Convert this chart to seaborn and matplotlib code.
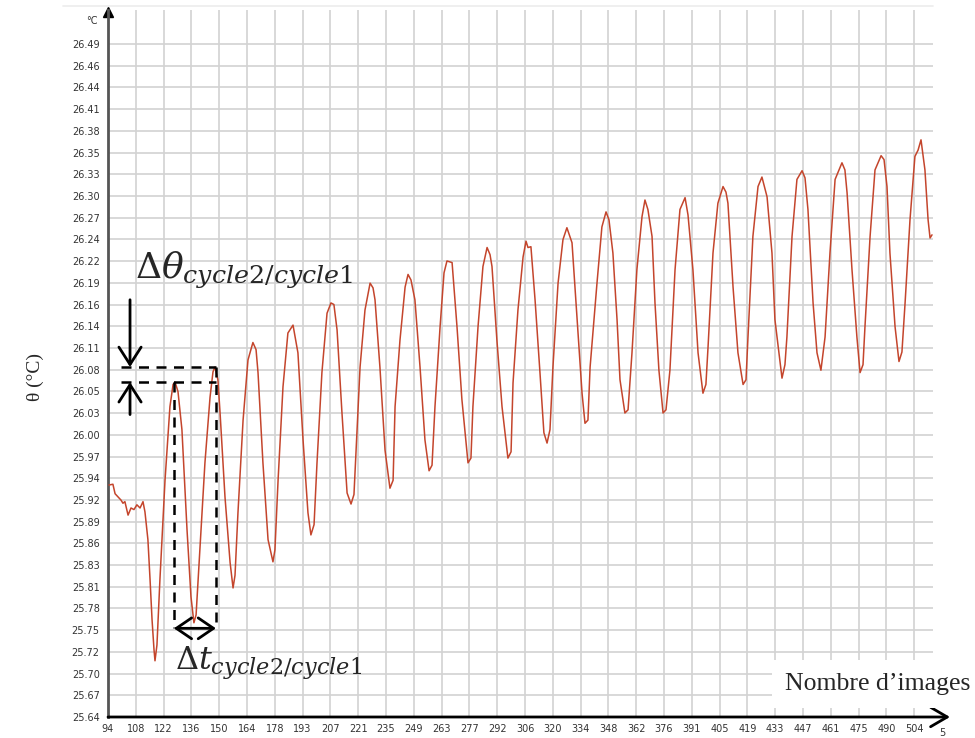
import numpy as np
import pandas as pd
import seaborn as sns
import matplotlib.pyplot as plt
from matplotlib.lines import Line2D

# data (image number, temperature in degC)
images = [94.5, 96.5, 97.6, 99.1, 100.6, 101.6, 102.6, 104.2, 105.7, 107.2, 108.7, 110.3, 111.8, 112.8,
          114.3, 115.4, 116.4, 117.4, 117.9, 118.9, 120.4, 123.0, 125.5, 127.1, 128.1, 129.6, 131.6, 134.2,
          136.2, 137.7, 138.8, 140.8, 143.3, 145.9, 147.4, 148.4, 149.9, 151.0, 153.5, 156.1, 157.6, 158.6,
          160.1, 162.7, 165.2, 167.7, 169.3, 170.3, 172.8, 175.4, 177.9, 178.9, 180.5, 183.0, 185.5, 188.1,
          190.6, 193.2, 195.7, 197.2, 198.8, 200.3, 202.8, 205.4, 207.4, 208.9, 210.5, 213.0, 215.6, 217.6,
          219.1, 222.2, 224.7, 227.3, 228.8, 229.8, 232.3, 234.9, 237.4, 239.0, 240.0, 242.5, 245.1, 246.6,
          248.1, 250.1, 252.7, 255.2, 257.3, 258.8, 260.3, 262.9, 264.9, 266.4, 269.0, 271.5, 274.0, 277.1,
          278.6, 279.6, 282.2, 284.7, 286.8, 288.3, 289.3, 291.8, 294.4, 297.4, 299.0, 300.0, 302.5, 305.1,
          306.6, 307.6, 309.1, 311.2, 313.7, 315.7, 317.3, 318.8, 320.3, 322.9, 325.4, 327.4, 330.0, 332.5,
          335.1, 336.6, 338.1, 339.2, 342.7, 345.2, 347.3, 348.8, 350.8, 352.9, 354.4, 356.9, 358.5, 360.5,
          363.0, 365.6, 367.1, 368.6, 370.7, 372.2, 374.2, 376.3, 377.8, 379.8, 382.4, 384.9, 387.5, 389.0,
          391.5, 394.1, 396.6, 398.1, 399.2, 401.7, 404.2, 406.8, 408.3, 409.3, 411.9, 414.4, 417.0, 418.5,
          419.5, 422.0, 424.6, 426.6, 429.2, 431.7, 433.2, 436.8, 438.3, 439.3, 441.9, 444.4, 447.0, 448.5,
          450.0, 452.6, 454.6, 456.6, 458.7, 461.2, 463.8, 467.3, 468.8, 469.9, 472.4, 474.9, 476.5, 478.0,
          479.0, 481.6, 484.1, 487.2, 488.7, 490.2, 491.7, 494.3, 496.3, 497.8, 499.4, 501.9, 504.4, 506.0,
          507.5, 509.5, 511.1, 512.1, 513.1]
temperature = [25.933, 25.934, 25.922, 25.918, 25.914, 25.910, 25.912, 25.895, 25.904, 25.902, 25.908, 25.904,
               25.912, 25.899, 25.864, 25.813, 25.763, 25.725, 25.711, 25.731, 25.813, 25.939, 26.032, 26.060,
               26.063, 26.051, 26.003, 25.876, 25.792, 25.759, 25.769, 25.855, 25.961, 26.044, 26.076, 26.082,
               26.066, 26.024, 25.918, 25.835, 25.803, 25.819, 25.898, 26.015, 26.091, 26.113, 26.104, 26.075,
               25.961, 25.864, 25.836, 25.851, 25.939, 26.057, 26.125, 26.135, 26.100, 25.990, 25.898, 25.870,
               25.883, 25.961, 26.075, 26.150, 26.163, 26.161, 26.129, 26.024, 25.923, 25.909, 25.921, 26.082,
               26.154, 26.188, 26.182, 26.167, 26.082, 25.977, 25.929, 25.939, 26.032, 26.116, 26.183, 26.199,
               26.192, 26.167, 26.082, 25.990, 25.951, 25.958, 26.032, 26.133, 26.201, 26.216, 26.214, 26.133,
               26.041, 25.961, 25.967, 26.032, 26.133, 26.209, 26.233, 26.224, 26.209, 26.116, 26.032, 25.967,
               25.975, 26.062, 26.154, 26.221, 26.241, 26.233, 26.234, 26.167, 26.075, 25.999, 25.986, 26.003,
               26.082, 26.188, 26.243, 26.258, 26.239, 26.145, 26.049, 26.011, 26.015, 26.082, 26.188, 26.259,
               26.278, 26.268, 26.226, 26.142, 26.066, 26.024, 26.028, 26.100, 26.205, 26.272, 26.293, 26.281,
               26.247, 26.163, 26.078, 26.024, 26.028, 26.078, 26.205, 26.281, 26.296, 26.274, 26.205, 26.100,
               26.049, 26.060, 26.108, 26.226, 26.289, 26.310, 26.303, 26.289, 26.183, 26.100, 26.060, 26.066,
               26.120, 26.247, 26.310, 26.322, 26.297, 26.226, 26.142, 26.068, 26.085, 26.120, 26.247, 26.319,
               26.330, 26.321, 26.281, 26.163, 26.100, 26.078, 26.120, 26.226, 26.319, 26.340, 26.331, 26.302,
               26.205, 26.120, 26.075, 26.085, 26.133, 26.247, 26.331, 26.349, 26.344, 26.310, 26.226, 26.133,
               26.089, 26.101, 26.163, 26.268, 26.348, 26.356, 26.369, 26.331, 26.268, 26.245, 26.249]

xtick_labels = ['94', '108', '122', '136', '150', '164', '178', '193', '207', '221', '235', '249', '263',
                '277', '292', '306', '320', '334', '348', '362', '376', '391', '405', '419', '433', '447',
                '461', '475', '490', '504']
ytick_labels = ['25.64', '25.67', '25.70', '25.72', '25.75', '25.78', '25.81', '25.83', '25.86', '25.89',
                '25.92', '25.94', '25.97', '26.00', '26.03', '26.05', '26.08', '26.11', '26.14', '26.16',
                '26.19', '26.22', '26.24', '26.27', '26.30', '26.33', '26.35', '26.38', '26.41', '26.44',
                '26.46', '26.49']

# the two cycles compared
peak1 = (127.5, 26.063)
peak2 = (148.9, 26.082)

df = pd.DataFrame({'image': images, 'temp': temperature})

sns.set_style('white')
plt.rcParams['mathtext.fontset'] = 'dejavuserif'

fig = plt.figure(figsize=(9.75, 7.38), dpi=100)
ax = fig.add_axes([108 / 975, 1 - 717 / 738, 825 / 975, 707 / 738])

sns.lineplot(data=df, x='image', y='temp', color='#c4452c', linewidth=1.1, estimator=None, ax=ax, zorder=3)

xt = 94 + np.arange(len(xtick_labels)) * 14.14
yt = np.linspace(25.64, 26.49, len(ytick_labels))
ax.set_xticks(xt)
ax.set_xticklabels(xtick_labels)
ax.set_yticks(yt)
ax.set_yticklabels(ytick_labels)
ax.set_xlim(94, 513.6)
ax.set_ylim(25.64, 26.533)
ax.grid(True, color='#d2d2d2', linewidth=1.2)
ax.set_axisbelow(True)
ax.tick_params(axis='x', length=0, pad=5, labelsize=7, labelcolor='#333333')
ax.tick_params(axis='y', length=4, width=1, color='#888888', pad=2, labelsize=7, labelcolor='#333333')
ax.set_xlabel('')
ax.set_ylabel('')

for s in ['top', 'right', 'bottom']:
    ax.spines[s].set_visible(False)
ax.spines['left'].set_color('#555555')
ax.spines['left'].set_linewidth(2)

# axis arrows
ax.plot(0, 0.997, marker='^', color='black', markersize=7, transform=ax.transAxes, clip_on=False)
ax.annotate('', xy=(1.0206, 0), xytext=(0, 0), xycoords='axes fraction',
            arrowprops=dict(arrowstyle='->, head_length=1.2, head_width=0.7', color='black', lw=2,
                            shrinkA=0, shrinkB=0), annotation_clip=False)
ax.text(518.3, -0.016, '5', transform=ax.get_xaxis_transform(), ha='center', va='top', fontsize=7,
        color='#333333')
ax.text(-0.012, 0.985, '°C', transform=ax.transAxes, ha='right', va='center', fontsize=7, color='#333333')
fig.add_artist(Line2D([63 / 975, 933 / 975], [1 - 6 / 738] * 2, color='#ececec', lw=1.2))

# delta theta construction
dash = dict(color='black', lw=1.8, linestyle=(0, (4, 3)), zorder=4)
ax.plot([100.6, peak2[0]], [peak2[1], peak2[1]], **dash)
ax.plot([100.6, peak2[0]], [peak1[1], peak1[1]], **dash)
ax.plot([peak1[0], peak1[0]], [peak1[1], 25.752], **dash)
ax.plot([peak2[0], peak2[0]], [peak2[1], 25.752], **dash)

arr = dict(arrowstyle='->, head_length=1.25, head_width=0.8', color='black', lw=2, shrinkA=0, shrinkB=0)
ax.annotate('', xy=(105.2, peak2[1]), xytext=(105.2, 26.167), arrowprops=arr, zorder=5)
ax.annotate('', xy=(105.2, peak1[1]), xytext=(105.2, 26.022), arrowprops=arr, zorder=5)
ax.annotate('', xy=(peak1[0], 25.752), xytext=(peak2[0], 25.752),
            arrowprops=dict(arr, arrowstyle='<->, head_length=1.1, head_width=0.75'), zorder=5)

ax.text(107.7, 26.205, r'$\Delta\theta_{cycle2/cycle1}$', fontsize=26, ha='left', va='center', zorder=5)
ax.text(128.1, 25.708, r'$\Delta t_{cycle2/cycle1}$', fontsize=23, ha='left', va='center', zorder=5)

fig.text(35 / 975, 1 - 377 / 738, 'θ (°C)', rotation=90, ha='center', va='center', fontsize=14,
         family='Liberation Serif')
fig.text(970 / 975, 1 - 684 / 738, 'Nombre d\u2019images', ha='right', va='center', fontsize=18.5,
         family='Liberation Serif',
         bbox=dict(boxstyle='square,pad=0.5', facecolor='white', edgecolor='none'))

plt.savefig('out.png', dpi=100)
